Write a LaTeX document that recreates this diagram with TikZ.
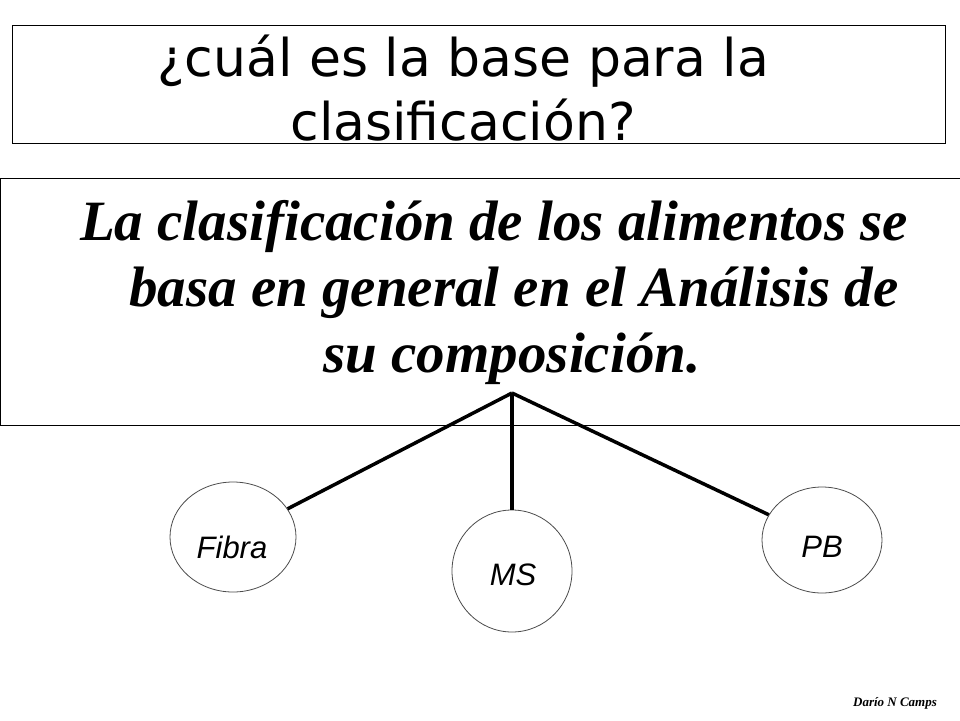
\documentclass[tikz,border=0pt]{standalone}
\usepackage{fontspec}
\usetikzlibrary{shapes.geometric}
\setmainfont{Liberation Serif}
\newfontfamily\comic{DejaVu Sans}
\newfontfamily\lsans{Liberation Sans}
\begin{document}
\begin{tikzpicture}[x=1pt,y=-1pt,
  circ/.style={draw=black!70,line width=0.8pt,fill=white},
  lbl/.style={font=\lsans\itshape\fontsize{31}{31}\selectfont},
  main/.style={font=\bfseries\itshape\fontsize{57}{57}\selectfont,anchor=base},
  conn/.style={line width=3.5pt}]
\useasboundingbox (0,0) rectangle (960,720);
\node[draw,line width=0.8pt,minimum width=933pt,minimum height=118pt,anchor=north west,inner sep=0pt] (title) at (12,25) {};
\node[font=\comic\fontsize{52}{64}\selectfont,align=center] (tt) at (463,88) {¿cuál es la base para la\\clasificación?};
\draw[line width=0.8pt] (965,178) -- (0,178) -- (0,425) -- (965,425);
\node[main] (l1) at (494,240) {La clasificación de los alimentos se};
\node[main] (l2) at (514,306) {basa en general en el Análisis de};
\node[main] (l3) at (512,372) {su composición.};
\coordinate (apex) at (512,393);
\node[circ,ellipse,minimum width=126pt,minimum height=110pt,inner sep=0pt] (fib) at (233,537) {};
\node[circ,ellipse,minimum width=120pt,minimum height=122pt,inner sep=0pt] (ms) at (512,571) {};
\node[circ,ellipse,minimum width=120pt,minimum height=106pt,inner sep=0pt] (pb) at (822,540) {};
\node[lbl] at (232,547) {Fibra};
\node[lbl] at (513,575) {MS};
\node[lbl] at (822,547) {PB};
\draw[conn] (apex) -- (fib);
\draw[conn] (apex) -- (ms);
\draw[conn] (apex) -- (pb);
\node[font=\bfseries\itshape\fontsize{13}{13}\selectfont] (sig) at (895,703) {Darío N Camps};
\end{tikzpicture}
\end{document}
